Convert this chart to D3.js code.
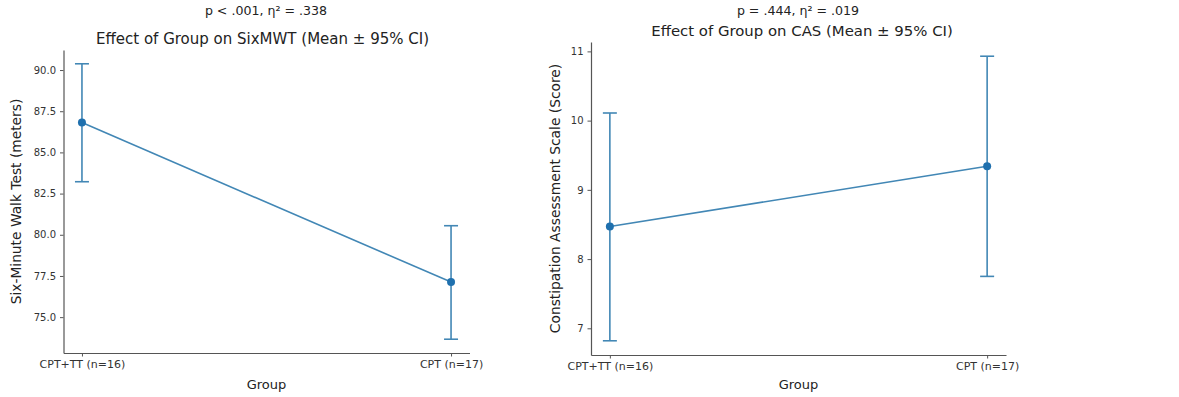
<!DOCTYPE html>
<html>
<head>
<meta charset="utf-8">
<script src="https://cdn.jsdelivr.net/npm/d3@7"></script>
<style>
  body { margin: 0; background: #fff; }
  svg { display: block; font-family: "DejaVu Sans", sans-serif; }
  .tick text { fill: #333; font-family: "DejaVu Sans", sans-serif; }
  .tick line, .domain { stroke: #555; }
</style>
</head>
<body>
<div id="chart"></div>
<script>
// values
var groups = ["CPT+TT (n=16)", "CPT (n=17)"];

var sixmwtMean = [86.81, 77.13];
var sixmwtLo = [83.22, 73.66];
var sixmwtHi = [90.38, 80.55];
var sixmwtTicks = [75, 77.5, 80, 82.5, 85, 87.5, 90];

var casMean = [8.47, 9.34];
var casLo = [6.82, 7.75];
var casHi = [10.11, 10.93];
var casTicks = [7, 8, 9, 10, 11];

var W = 1179, H = 397;
var lineCol = "#4287b5", dotCol = "#1f70ae";

var svg = d3.select("#chart").append("svg").attr("width", W).attr("height", H);

function panel(opt) {
	var g = svg.append("g");
	var lo = d3.min(opt.lo), hi = d3.max(opt.hi);
	var pad = (hi - lo) * 0.05;
	var x = d3.scaleLinear().domain([-0.05, 1.05]).range([opt.left, opt.right]);
	var y = d3.scaleLinear().domain([lo - pad, hi + pad]).range([opt.bottom, opt.top]);

	var xa = g.append("g").attr("transform", "translate(0," + opt.bottom + ")")
		.call(d3.axisBottom(x).tickValues([0, 1]).tickFormat(function(d) { return groups[d]; }).tickSize(3.5).tickPadding(4).tickSizeOuter(0));
	xa.selectAll(".tick text").style("font-size", "11px");
	var ya = g.append("g").attr("transform", "translate(" + opt.left + ",0)")
		.call(d3.axisLeft(y).tickValues(opt.ticks).tickFormat(opt.fmt).tickSize(3.5).tickPadding(4).tickSizeOuter(0));
	ya.selectAll(".tick text").style("font-size", "10px");
	g.selectAll(".domain").attr("stroke-width", 1.2);

	// error bars
	var idx = [0, 1];
	g.selectAll(".ci").data(idx).enter().append("line")
		.attr("x1", function(i) { return x(i); }).attr("x2", function(i) { return x(i); })
		.attr("y1", function(i) { return y(opt.lo[i]); }).attr("y2", function(i) { return y(opt.hi[i]); })
		.attr("stroke", lineCol).attr("stroke-width", 1.6);
	[opt.lo, opt.hi].forEach(function(arr) {
		g.selectAll(null).data(idx).enter().append("line")
			.attr("x1", function(i) { return x(i) - 7; }).attr("x2", function(i) { return x(i) + 7; })
			.attr("y1", function(i) { return y(arr[i]); }).attr("y2", function(i) { return y(arr[i]); })
			.attr("stroke", lineCol).attr("stroke-width", 1.6);
	});
	g.append("path").datum(idx)
		.attr("d", d3.line().x(function(i) { return x(i); }).y(function(i) { return y(opt.mean[i]); }))
		.attr("fill", "none").attr("stroke", lineCol).attr("stroke-width", 1.6);
	g.selectAll(".dot").data(idx).enter().append("circle")
		.attr("cx", function(i) { return x(i); }).attr("cy", function(i) { return y(opt.mean[i]); })
		.attr("r", 4).attr("fill", dotCol);

	var cx = (opt.left + opt.right) / 2;
	g.append("text").attr("x", opt.statX).attr("y", 15).attr("text-anchor", "middle")
		.attr("font-size", 12.6).attr("fill", "#222").text(opt.stat);
	g.append("text").attr("x", opt.titleX).attr("y", opt.titleY).attr("text-anchor", "middle")
		.attr("font-size", opt.titleSize).attr("fill", "#222").text(opt.title);
	g.append("text").attr("x", cx).attr("y", 389).attr("text-anchor", "middle")
		.attr("font-size", 13).attr("fill", "#222").text("Group");
	g.append("text").attr("transform", "translate(" + opt.ylabX + "," + ((opt.top + opt.bottom) / 2) + ")rotate(-90)")
		.attr("text-anchor", "middle").attr("font-size", 13.8).attr("fill", "#222").text(opt.ylab);
}

panel({
	left: 63.5, right: 469.5, top: 50, bottom: 353,
	mean: sixmwtMean, lo: sixmwtLo, hi: sixmwtHi, ticks: sixmwtTicks, fmt: d3.format(".1f"),
	stat: "p < .001, η² = .338", statX: 266,
	title: "Effect of Group on SixMWT (Mean ± 95% CI)", titleX: 262.5, titleY: 43.5, titleSize: 15,
	ylab: "Six-Minute Walk Test (meters)", ylabX: 21
});
panel({
	left: 591, right: 1006, top: 42, bottom: 355,
	mean: casMean, lo: casLo, hi: casHi, ticks: casTicks, fmt: d3.format("d"),
	stat: "p = .444, η² = .019", statX: 798,
	title: "Effect of Group on CAS (Mean ± 95% CI)", titleX: 802, titleY: 36, titleSize: 14.9,
	ylab: "Constipation Assessment Scale (Score)", ylabX: 560
});
</script>
</body>
</html>
